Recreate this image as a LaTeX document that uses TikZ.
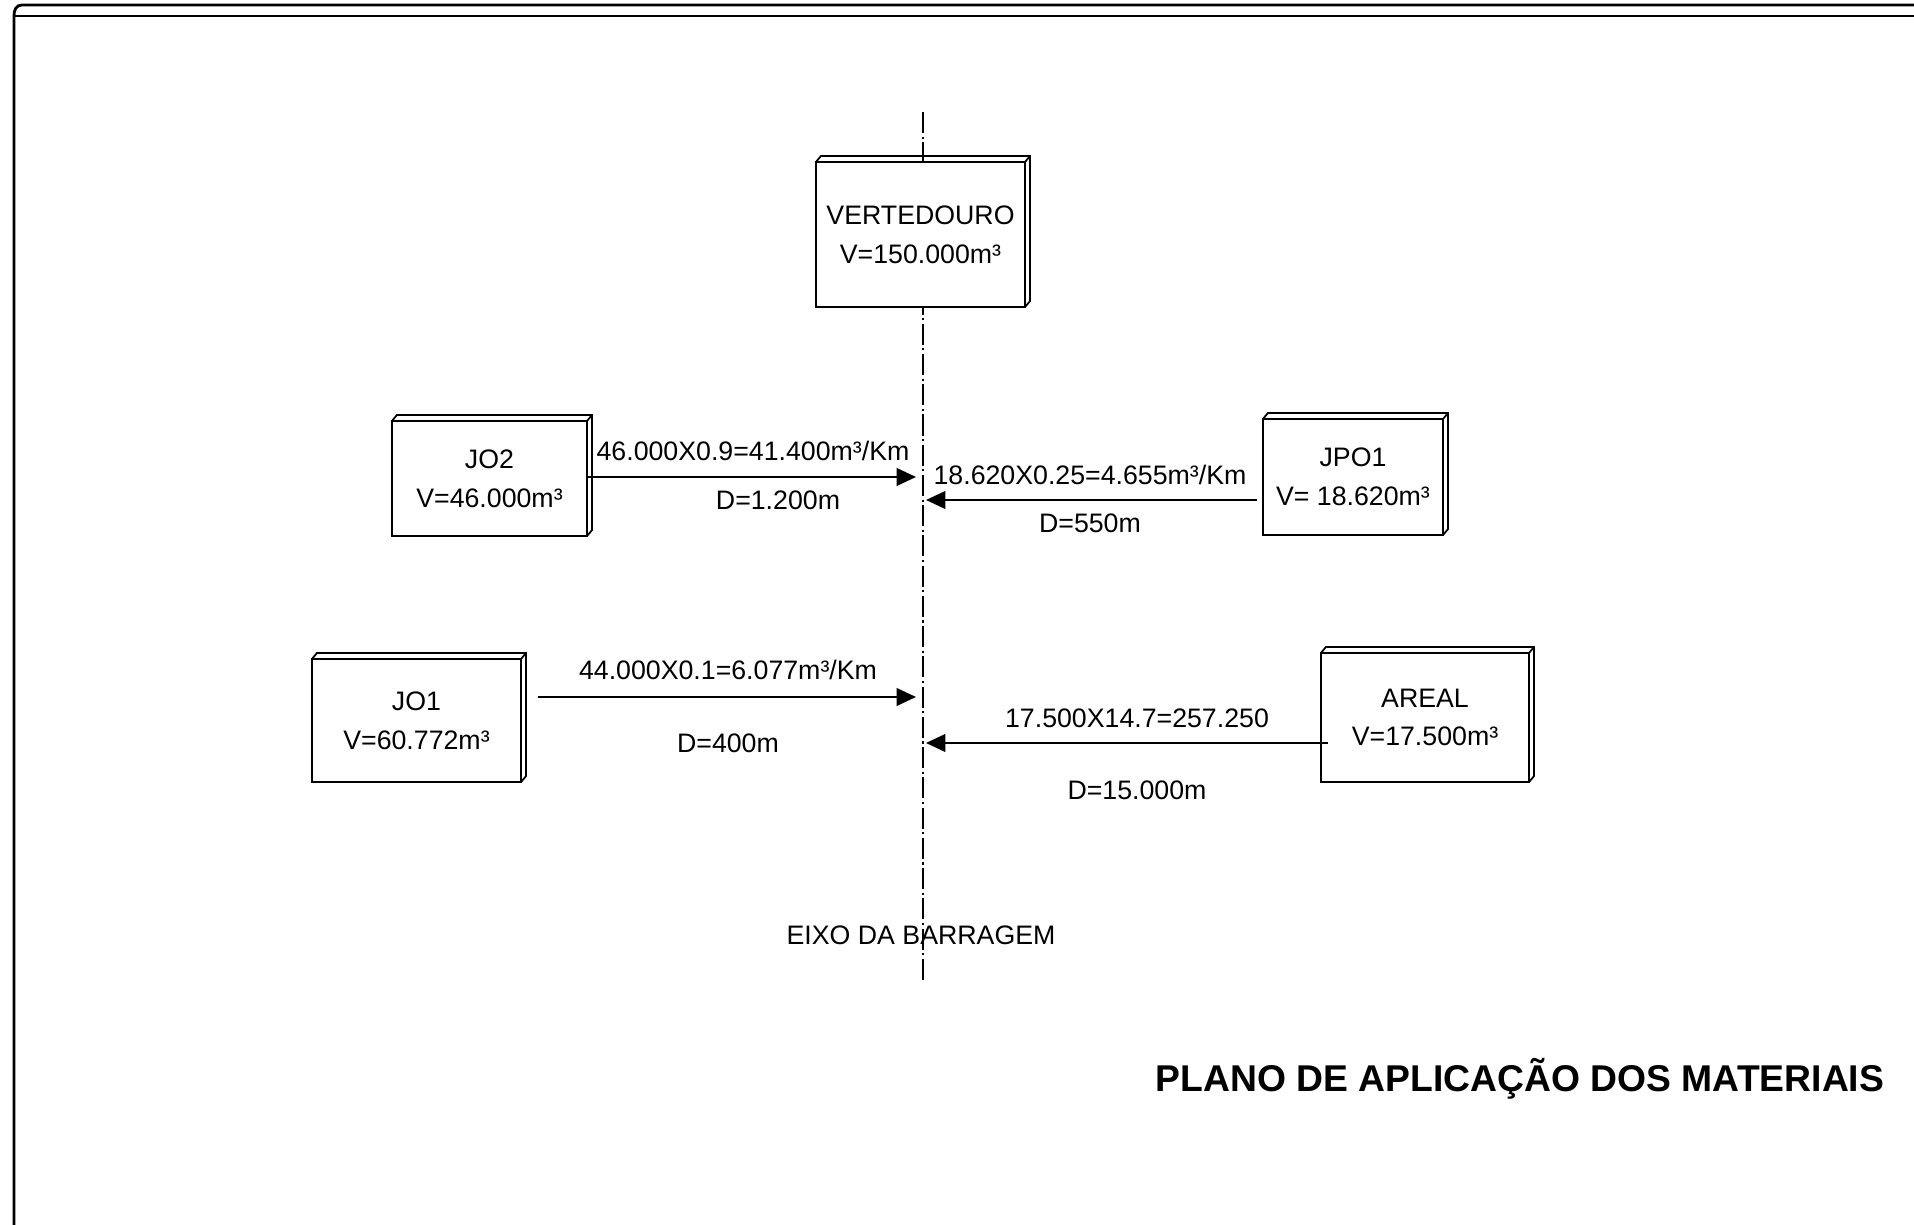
\documentclass[tikz,border=0pt]{standalone}
\usepackage{fontspec}
\setmainfont{Liberation Sans}
\usetikzlibrary{arrows.meta}
% back edges of a box, drawn up and to the right
\newcommand{\boxdepth}[1]{%
  \draw[depth] (#1.north west) -- ++(5,-6) -- ([shift={(5,-6)}]#1.north east)
    -- ([shift={(5,-6)}]#1.south east) -- (#1.south east)
    (#1.north east) -- ++(5,-6);}

\begin{document}
\begin{tikzpicture}[
  x=0.01cm,y=-0.01cm,
  site/.style={draw,fill=white,line width=0.5pt,inner sep=0pt,outer sep=0pt,align=center,
    font=\fontsize{7.6}{11}\selectfont},
  depth/.style={line width=0.5pt},
  flow/.style={line width=0.6pt,-{Triangle[length=5.5pt,width=5pt]}},
  tag/.style={font=\fontsize{7.6}{9}\selectfont,inner sep=0pt},
  axisline/.style={line width=0.4pt,dash pattern=on 6pt off 1pt on 0.6pt off 1pt}
]
\useasboundingbox (0,0) rectangle (1914,1225);

% sheet border
\draw[line width=0.8pt] (1914,5) -- (22,5) .. controls (16,5) and (14,10) .. (14,16) -- (14,1225);
\draw[line width=0.6pt] (14,16) -- (1914,16);

% dam axis
\coordinate (axtop) at (923,112);
\coordinate (axbot) at (923,982);
\draw[axisline] (axtop) -- (axbot);
\node[tag] (axname) at (921,935) {EIXO DA BARRAGEM};

% sources and spillway
\node[site,minimum width=2.09cm,minimum height=1.45cm] (vert) at (920.5,234.5)
  {VERTEDOURO\\V=150.000m³};
\boxdepth{vert}
\node[site,minimum width=1.95cm,minimum height=1.15cm] (jo2) at (489.5,478.5)
  {JO2\\V=46.000m³};
\boxdepth{jo2}
\node[site,minimum width=1.80cm,minimum height=1.16cm] (jpo1) at (1353,477)
  {JPO1\\V= 18.620m³};
\boxdepth{jpo1}
\node[site,minimum width=2.09cm,minimum height=1.23cm] (jo1) at (416.5,720.5)
  {JO1\\V=60.772m³};
\boxdepth{jo1}
\node[site,minimum width=2.08cm,minimum height=1.29cm] (areal) at (1425,717.5)
  {AREAL\\V=17.500m³};
\boxdepth{areal}

% haul routes to the axis
\coordinate (jo2in) at (916,477);
\coordinate (jpo1in) at (926,500);
\coordinate (jo1in) at (916,697);
\coordinate (arealin) at (926,743);
\draw[flow] (jo2.east |- jo2in) -- (jo2in);
\draw[flow] ([xshift=-0.06cm]jpo1.west |- jpo1in) -- (jpo1in);
\draw[flow] ([xshift=0.17cm]jo1.east |- jo1in) -- (jo1in);
\draw[flow] ([xshift=0.07cm]areal.west |- arealin) -- (arealin);

\node[tag] (jo2vol) at (753,451) {46.000X0.9=41.400m³/Km};
\node[tag] (jo2dist) at (778,500) {D=1.200m};
\node[tag] (jpo1vol) at (1090,475) {18.620X0.25=4.655m³/Km};
\node[tag] (jpo1dist) at (1090,523) {D=550m};
\node[tag] (jo1vol) at (728,670) {44.000X0.1=6.077m³/Km};
\node[tag] (jo1dist) at (728,743) {D=400m};
\node[tag] (arealvol) at (1137,718) {17.500X14.7=257.250};
\node[tag] (arealdist) at (1137,790) {D=15.000m};

\node[font=\fontsize{10.6}{12}\selectfont\bfseries,inner sep=0pt] (title) at (1520,1079)
  {PLANO DE APLICAÇÃO DOS MATERIAIS};
\end{tikzpicture}
\end{document}
